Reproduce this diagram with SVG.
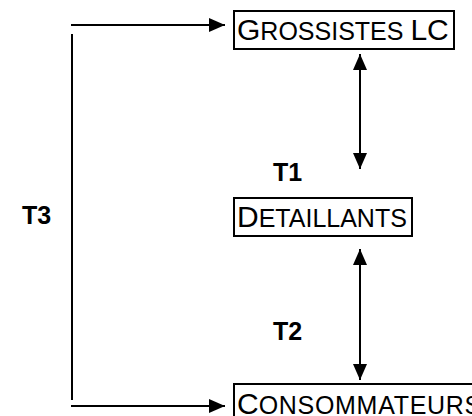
<svg xmlns="http://www.w3.org/2000/svg" width="472" height="416" viewBox="0 0 472 416">
  <style>
    .box { fill: #fff; stroke: #000; stroke-width: 2; }
    .cap { font-family: "Liberation Sans", Arial, sans-serif; font-size: 30px; fill: #000; }
    .sc { font-size: 25px; }
    .lbl { font-family: "Liberation Sans", Arial, sans-serif; font-size: 25px; font-weight: bold; fill: #000; }
    .wire { fill: none; stroke: #000; stroke-width: 2; }
  </style>
  <defs>
    <marker id="head" viewBox="0 0 16 14" refX="16" refY="7" markerWidth="16" markerHeight="14" markerUnits="userSpaceOnUse" orient="auto-start-reverse">
      <path d="M0,0 L16,7 L0,14 Z" fill="#000"/>
    </marker>
  </defs>

  <!-- connectors -->
  <g id="connectors">
    <line class="wire" x1="71" y1="25" x2="225" y2="25" marker-end="url(#head)"/>
    <line class="wire" x1="72" y1="34" x2="72" y2="400"/>
    <line class="wire" x1="71" y1="406" x2="225" y2="406" marker-end="url(#head)"/>
    <line class="wire" x1="360" y1="54" x2="360" y2="169" marker-start="url(#head)" marker-end="url(#head)"/>
    <line class="wire" x1="360" y1="249" x2="360" y2="380" marker-start="url(#head)" marker-end="url(#head)"/>
  </g>

  <!-- edge labels -->
  <g id="labels">
    <text class="lbl" x="273" y="181">T1</text>
    <text class="lbl" x="273" y="340">T2</text>
    <text class="lbl" x="22" y="224">T3</text>
  </g>

  <g id="grossistes">
    <rect class="box" x="234" y="11" width="220" height="38"/>
    <text class="cap" x="237" y="40">G<tspan class="sc">ROSSISTES </tspan>LC</text>
  </g>

  <g id="detaillants">
    <rect class="box" x="234" y="198" width="178" height="38"/>
    <text class="cap" x="237" y="227">D<tspan class="sc">ETAILLANTS</tspan></text>
  </g>

  <g id="consommateurs">
    <rect class="box" x="234" y="384" width="260" height="40"/>
    <text class="cap" x="237" y="414">C<tspan class="sc" letter-spacing="0.7">ONSOMMATEURS</tspan></text>
  </g>
</svg>
